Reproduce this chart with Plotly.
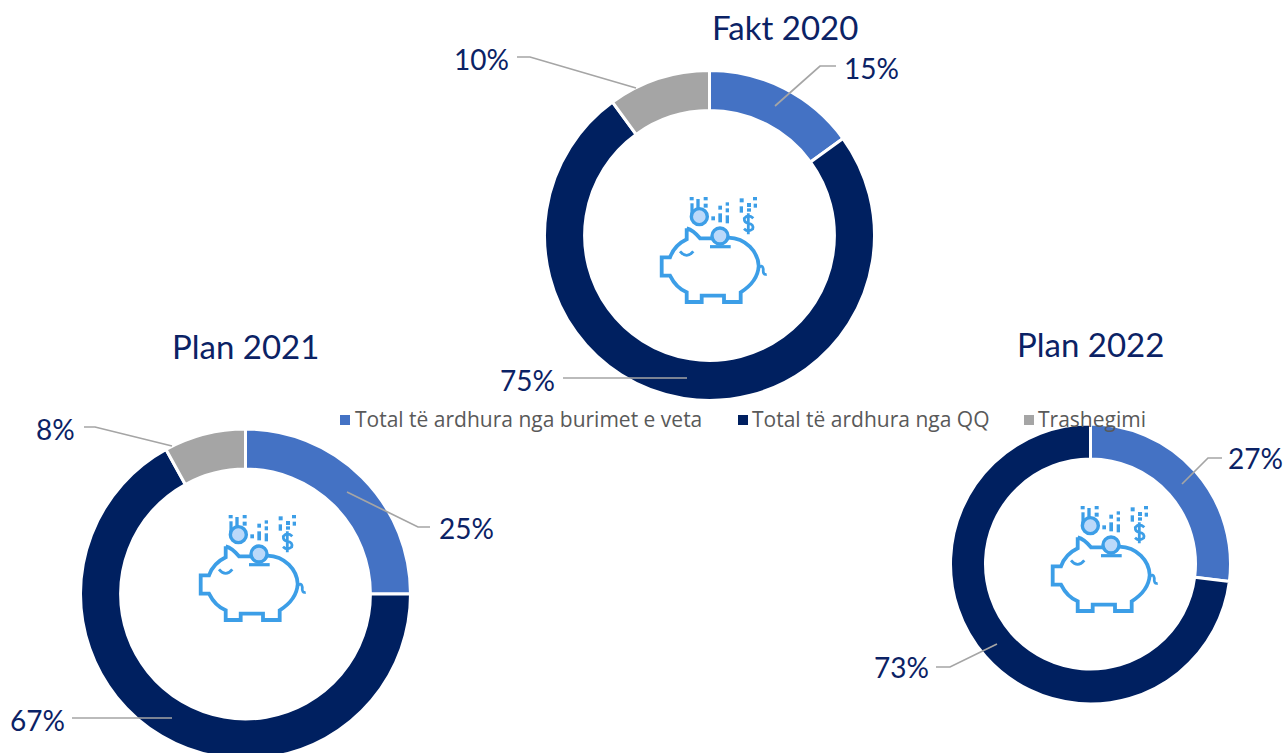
import plotly.graph_objects as go

W, H = 1288, 760
categories = ["Total të ardhura nga burimet e veta", "Total të ardhura nga QQ", "Trashegimi"]
colors = ["#4472C4", "#002060", "#A5A5A5"]
fakt_2020 = [15, 75, 10]
plan_2021 = [25, 67, 8]
plan_2022 = [27, 73, 0]
legend_text_x = [353, 750, 1036]
legend_marker_x = [340, 738, 1024]

TEXT = "#0B2265"
ICON = "#3C9EE7"
FONT = "Lato"

charts = [
    dict(title="Fakt 2020", values=fakt_2020, c=(709.5, 235.5), r=165, hole=.757, tpos=(785, 27), off=(0, 0),
         labels=[(871, 68), (527, 380), (481, 59)],
         leaders=[[(775, 106), (820, 66), (836, 66)], [(687, 378), (563, 378)], [(636, 88), (530, 57), (517, 57)]]),
    dict(title="Plan 2021", values=plan_2021, c=(245.5, 594), r=165, hole=.757, tpos=(245, 346), off=(-461, 318),
         labels=[(466, 528), (37, 720), (55, 429)],
         leaders=[[(347, 492), (418, 527), (430, 527)], [(172, 718), (72, 718)], [(172, 446), (95, 427), (84, 427)]]),
    dict(title="Plan 2022", values=plan_2022, c=(1090.5, 564), r=140, hole=.75, tpos=(1090, 344), off=(391, 309),
         labels=[(1255, 458), (901, 667), None],
         leaders=[[(1182, 484), (1208, 458), (1222, 458)], [(997, 644), (950, 667), (936, 667)], None]),
]

fig = go.Figure()
anns, shapes = [], []


def px(u, v, off):
    return 640 + u / 3 + off[0], 180 + v / 3 + off[1]


def path(cmds, off):
    out = []
    for c in cmds:
        pts = [px(c[i], c[i + 1], off) for i in range(1, len(c), 2)]
        out.append(c[0] + " " + " ".join(f"{x:.1f},{y:.1f}" for x, y in pts))
    return " ".join(out)


BODY = [("M", 140, 145), ("Q", 160, 150, 180, 175), ("L", 215, 175), ("M", 265, 173),
        ("C", 318, 175, 354, 215, 356, 258), ("C", 354, 292, 332, 318, 302, 337), ("L", 302, 366), ("L", 252, 366),
        ("L", 252, 347), ("L", 185, 347), ("L", 185, 366), ("L", 140, 366), ("L", 140, 337),
        ("C", 115, 327, 100, 307, 90, 287), ("L", 65, 287), ("L", 65, 232), ("L", 90, 232),
        ("C", 100, 205, 115, 190, 140, 178), ("L", 140, 145)]
EYE = [("M", 120, 214), ("Q", 140, 238, 160, 214)]
TAIL = [("M", 354, 265), ("Q", 367, 250, 370, 268), ("Q", 368, 286, 380, 283)]
SLOT = [("M", 210, 200), ("L", 272, 200)]
DOLLAR = [("M", 340, 115), ("Q", 325, 100, 313, 115), ("Q", 312, 128, 326, 130), ("Q", 342, 133, 338, 147),
          ("Q", 325, 158, 312, 146), ("M", 325, 100), ("L", 325, 163)]
STEM = [("M", 156, 70), ("L", 156, 110)]
DOTS = [(149, 51, 161, 61), (191, 51, 203, 61), (191, 71, 203, 83), (169, 57, 179, 88),
        (235, 77, 246, 89), (257, 67, 267, 77), (257, 85, 267, 97), (235, 100, 246, 127), (257, 106, 267, 130), (214, 109, 225, 121),
        (299, 55, 311, 67), (339, 51, 351, 61), (321, 69, 333, 81), (341, 71, 351, 83), (299, 79, 309, 98), (321, 85, 333, 95)]
COINS = [(178, 110, 24), (240, 168, 24)]

for i, ch in enumerate(charts):
    cx, cy = ch["c"]
    r = ch["r"]
    fig.add_trace(go.Pie(
        labels=categories, values=ch["values"], hole=ch["hole"], sort=False, direction="clockwise", rotation=0,
        marker=dict(colors=colors, line=dict(color="white", width=3)), textinfo="none", hoverinfo="label+percent",
        showlegend=False, name=ch["title"],
        domain=dict(x=[(cx - r) / W, (cx + r) / W], y=[1 - (cy + r) / H, 1 - (cy - r) / H]),
    ))
    anns.append(dict(x=ch["tpos"][0], y=ch["tpos"][1], xref="x", yref="y", text=ch["title"], showarrow=False,
                     font=dict(family=FONT, size=33, color=TEXT), xanchor="center", yanchor="middle"))
    for v, lab, lead in zip(ch["values"], ch["labels"], ch["leaders"]):
        if lab is None:
            continue
        anns.append(dict(x=lab[0], y=lab[1], xref="x", yref="y", text=f"{v}%", showarrow=False,
                         font=dict(family=FONT, size=28, color=TEXT), xanchor="center", yanchor="middle"))
        d = "M " + " L ".join(f"{x},{y}" for x, y in lead)
        shapes.append(dict(type="path", path=d, xref="x", yref="y", line=dict(color="#A5A5A5", width=1.7)))
    off = ch["off"]
    for cmds, w in [(BODY, 3.8), (EYE, 2.8), (TAIL, 2.8), (SLOT, 3.2), (DOLLAR, 2.8), (STEM, 3.2)]:
        shapes.append(dict(type="path", path=path(cmds, off), xref="x", yref="y", line=dict(color=ICON, width=w)))
    for x0, y0, x1, y1 in DOTS:
        a, b = px(x0, y0, off)
        c, d = px(x1, y1, off)
        shapes.append(dict(type="rect", x0=a, y0=b, x1=c, y1=d, xref="x", yref="y", line=dict(width=0), fillcolor=ICON))
    for u, v, rad in COINS:
        a, b = px(u - rad, v - rad, off)
        c, d = px(u + rad, v + rad, off)
        shapes.append(dict(type="circle", x0=a, y0=b, x1=c, y1=d, xref="x", yref="y",
                           line=dict(color=ICON, width=3.4), fillcolor="#BBD9FA"))

for name, col, tx, mx in zip(categories, colors, legend_text_x, legend_marker_x):
    shapes.append(dict(type="rect", x0=mx, x1=mx + 10, y0=415, y1=425, xref="x", yref="y", line=dict(width=0), fillcolor=col))
    anns.append(dict(x=tx, y=419, xref="x", yref="y", text=name, showarrow=False, xanchor="left", yanchor="middle",
                     font=dict(family="Open Sans", size=21, color="#595959")))

fig.update_layout(
    width=W, height=H, margin=dict(l=0, r=0, t=0, b=0), paper_bgcolor="white", plot_bgcolor="rgba(0,0,0,0)",
    xaxis=dict(range=[0, W], visible=False, fixedrange=True, domain=[0, 1]),
    yaxis=dict(range=[H, 0], visible=False, fixedrange=True, domain=[0, 1]),
    annotations=anns, shapes=shapes, showlegend=False,
)
fig.add_trace(go.Scatter(x=[], y=[], showlegend=False, hoverinfo="skip"))
fig.write_html("out.html", config=dict(displayModeBar=False),
               post_script="document.documentElement.style.overflow='hidden';document.body.style.overflow='hidden';document.body.style.margin='0';")
